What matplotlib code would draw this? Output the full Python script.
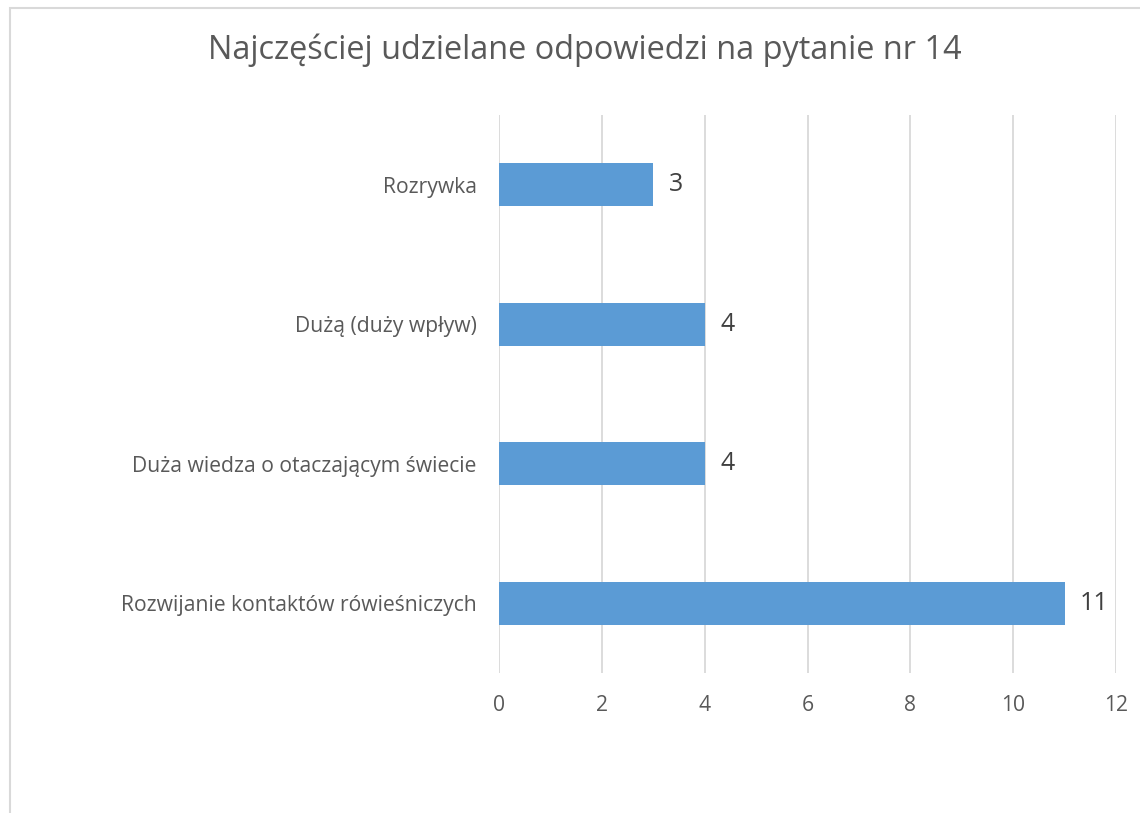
import matplotlib.pyplot as plt
from matplotlib.patches import Rectangle

categories = [
    'Rozwijanie kontaktów rówieśniczych',
    'Duża wiedza o otaczającym świecie',
    'Dużą (duży wpływ)',
    'Rozrywka',
]
values = [11, 4, 4, 3]
x_ticks = [0, 2, 4, 6, 8, 10, 12]

plt.rcParams['font.family'] = ['Open Sans', 'DejaVu Sans']

fig = plt.figure(figsize=(11.4, 8.13), dpi=100, facecolor='white')
ax = fig.add_axes([499 / 1140, 1 - 673 / 813, 617 / 1140, 558 / 813])

# chart border (cropped on right and bottom)
fig.patches.append(Rectangle((10 / 1140, -0.05), 1.2, 1 - 8 / 813 + 0.05,
                             transform=fig.transFigure, fill=False,
                             edgecolor='#D9D9D9', linewidth=1.5))

pos = list(range(len(categories)))
bars = ax.barh(pos, values, height=0.31, color='#5B9BD5', zorder=3)

for b, v in zip(bars, values):
    ax.text(b.get_width() + 0.3, b.get_y() + b.get_height() / 2, str(v),
            va='center', ha='left', fontsize=18, color='#404040')

ax.set_xlim(0, 12)
ax.set_ylim(-0.5, len(categories) - 0.5)
ax.set_xticks(x_ticks)
ax.set_yticks(pos)
ax.set_yticklabels(categories)
ax.tick_params(axis='both', length=0, colors='#595959', labelsize=15.2)
ax.tick_params(axis='x', pad=16)
ax.tick_params(axis='y', pad=16)
ax.xaxis.grid(True, color='#D9D9D9', linewidth=1.3, zorder=0)
for s in ax.spines.values():
    s.set_visible(False)

fig.text(585 / 1140, 1 - 50 / 813, 'Najczęściej udzielane odpowiedzi na pytanie nr 14',
         ha='center', va='center', fontsize=23.4, color='#595959')

plt.savefig('out.png', dpi=100)
